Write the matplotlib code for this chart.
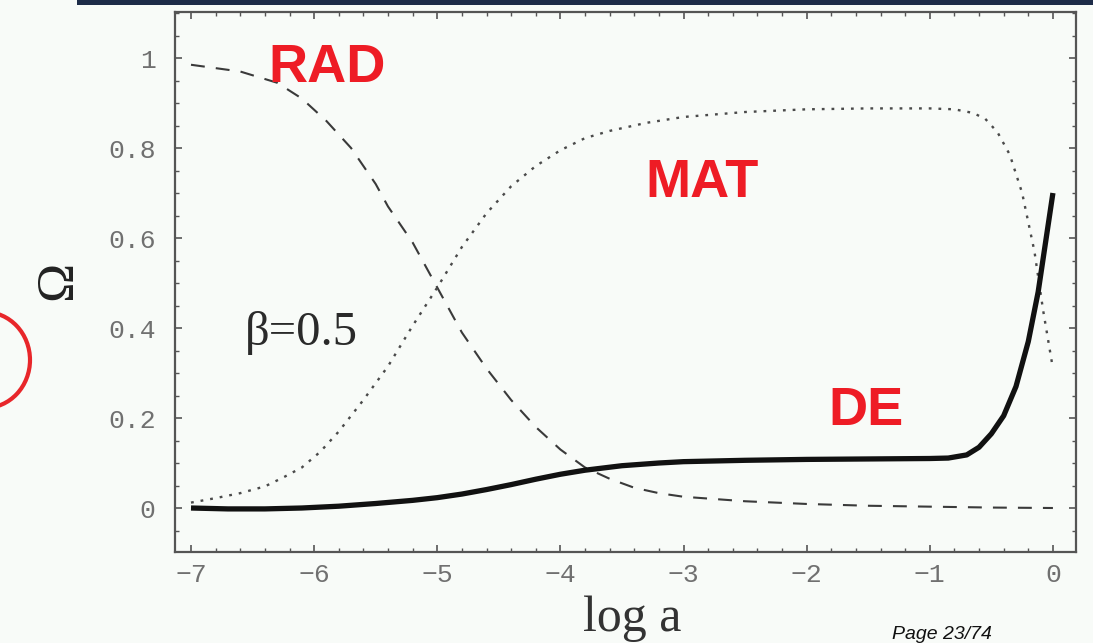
import numpy as np
import matplotlib
matplotlib.use("Agg")
import matplotlib.pyplot as plt
from matplotlib.patches import Rectangle, Ellipse
from matplotlib.ticker import MultipleLocator

plt.rcParams['lines.scale_dashes'] = False

# density parameters vs log of the scale factor
rad_x = [-7.0, -6.6, -6.3, -6.1, -5.9, -5.7, -5.5, -5.4, -5.2, -5.0, -4.8, -4.6,
         -4.4, -4.2, -4.0, -3.8, -3.6, -3.4, -3.2, -3.0, -2.5, -2.0, -1.5, -1.0,
         -0.5, 0.0]
rad_y = [0.985, 0.97, 0.945, 0.91, 0.86, 0.80, 0.72, 0.67, 0.59, 0.49, 0.39, 0.31,
         0.24, 0.18, 0.13, 0.09, 0.065, 0.045, 0.033, 0.025, 0.015, 0.009, 0.005,
         0.003, 0.001, 0.0]

mat_x = [-7.0, -6.8, -6.6, -6.4, -6.25, -6.1, -5.95, -5.8, -5.6, -5.4, -5.2, -5.0,
         -4.8, -4.6, -4.4, -4.2, -4.0, -3.8, -3.6, -3.3, -3.0, -2.5, -2.0, -1.5,
         -1.0, -0.8, -0.65, -0.55, -0.45, -0.35, -0.25, -0.15, -0.08, 0.0]
mat_y = [0.012, 0.022, 0.033, 0.048, 0.068, 0.09, 0.125, 0.17, 0.24, 0.315, 0.405,
         0.49, 0.58, 0.655, 0.715, 0.76, 0.795, 0.822, 0.838, 0.856, 0.869, 0.88,
         0.886, 0.888, 0.888, 0.886, 0.878, 0.865, 0.835, 0.785, 0.70, 0.57, 0.44,
         0.31]

de_x = [-7.0, -6.7, -6.4, -6.1, -5.8, -5.5, -5.2, -5.0, -4.8, -4.6, -4.4, -4.2,
        -4.0, -3.8, -3.5, -3.2, -3.0, -2.5, -2.0, -1.5, -1.0, -0.85, -0.7, -0.6,
        -0.5, -0.4, -0.3, -0.2, -0.12, -0.06, 0.0]
de_y = [0.0, -0.002, -0.002, 0.0, 0.004, 0.01, 0.017, 0.023, 0.031, 0.041, 0.052,
        0.064, 0.075, 0.084, 0.094, 0.100, 0.103, 0.106, 0.108, 0.109, 0.110, 0.111,
        0.118, 0.135, 0.165, 0.205, 0.27, 0.37, 0.48, 0.59, 0.70]

xticks = [-7, -6, -5, -4, -3, -2, -1, 0]
xticklabels = ['\u22127', '\u22126', '\u22125', '\u22124', '\u22123', '\u22122', '\u22121', '0']
yticks = [0, 0.2, 0.4, 0.6, 0.8, 1.0]
yticklabels = ['0', '0.2', '0.4', '0.6', '0.8', '1']

bg = '#f8fbf8'
red = '#ee1c25'
mono = ['Liberation Mono', 'DejaVu Sans Mono']
serif = ['Liberation Serif', 'DejaVu Serif']

fig = plt.figure(figsize=(10.93, 6.43), dpi=100)
fig.patch.set_facecolor(bg)
ax = fig.add_axes([0.1601, 0.1415, 0.8243, 0.8398])
ax.set_facecolor(bg)

ax.plot(rad_x, rad_y, color='#3a3a3a', lw=1.5, dashes=(10, 8))
ax.plot(mat_x, mat_y, color='#4a4a4a', lw=1.7, dashes=(2, 5))
ax.plot(de_x, de_y, color='#111111', lw=3.8, solid_capstyle='butt')

ax.set_xlim(-7.13, 0.187)
ax.set_ylim(-0.0978, 1.1022)

ax.set_xticks(xticks)
ax.set_xticklabels(xticklabels, family=mono, fontsize=19, color='#707070')
ax.set_yticks(yticks)
ax.set_yticklabels(yticklabels, family=mono, fontsize=19, color='#707070')
ax.xaxis.set_minor_locator(MultipleLocator(0.2))
ax.yaxis.set_minor_locator(MultipleLocator(0.05))
ax.tick_params(which='both', direction='in', top=True, right=True, color='#555555')
ax.tick_params(which='major', length=5, width=1.2)
ax.tick_params(which='minor', length=3, width=1.0)
ax.tick_params(axis='x', pad=8)
ax.tick_params(axis='y', pad=14)
for s in ax.spines.values():
    s.set_color('#555555')
    s.set_linewidth(1.6)

# component labels
ax.text(-6.375, 0.947, 'RAD', color=red, fontsize=39, fontweight='bold',
        family='Liberation Sans', ha='left', va='baseline')
ax.text(-3.313, 0.691, 'MAT', color=red, fontsize=39, fontweight='bold',
        family='Liberation Sans', ha='left', va='baseline')
ax.text(-1.827, 0.184, 'DE', color=red, fontsize=39, fontweight='bold',
        family='Liberation Sans', ha='left', va='baseline')
ax.text(-6.56, 0.362, '\u03b2=0.5', color='#2a2a2a', fontsize=35, family=serif,
        ha='left', va='baseline')

# axis titles
fig.text(632 / 1093, 12 / 643, 'log a', fontsize=36, family=serif, color='#333333',
         ha='center', va='baseline')
fig.text(58 / 1093, 1 - 280 / 643, '\u03a9', fontsize=38, family=serif, color='#222222',
         rotation=90, ha='center', va='center')

# slide decorations
fig.add_artist(Rectangle((77 / 1093, 1 - 5 / 643), 1, 5 / 643, transform=fig.transFigure,
                         color='#1d2c48', lw=0))
fig.add_artist(Ellipse((-15 / 1093, 1 - 360 / 643), 90 / 1093, 96 / 643,
                       transform=fig.transFigure, fill=False, edgecolor='#e8262a', lw=3))
fig.text(892 / 1093, 1 - 626 / 643, 'Page 23/74', fontsize=14, style='italic',
         family='Liberation Sans', color='#111111', ha='left', va='top')

fig.savefig('out.png', dpi=100, facecolor=bg)
